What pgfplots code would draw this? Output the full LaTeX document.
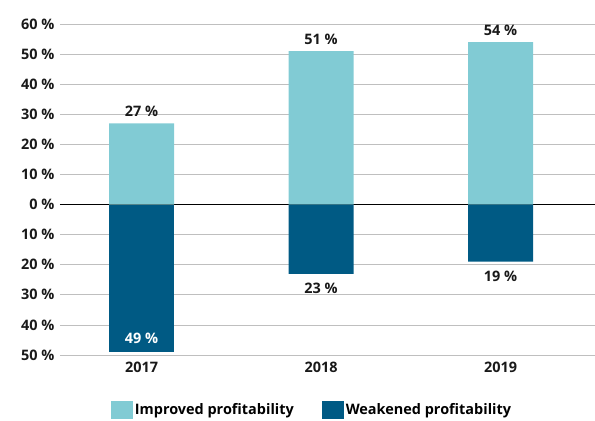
\documentclass[border=0pt]{standalone}
\usepackage{pgfplots}
\pgfplotsset{compat=1.18}
\usepackage{pgfplotstable}
\usepackage{fontspec}
\setmainfont{Open Sans}
\definecolor{lightc}{HTML}{81CBD4}
\definecolor{darkc}{HTML}{005A84}
\pgfplotstableread{
x y
0 27
1 51
2 54
}\improved
\pgfplotstableread{
x y
1 -23
2 -19
}\weakB
\pgfplotstableread{
x y
0 -49
}\weakA
\begin{document}
\begin{tikzpicture}
\path[use as bounding box] (-60bp,-66bp) rectangle (535bp,355bp);
\begin{axis}[
  at={(0,0)}, anchor=south west,
  scale only axis, width=535bp, height=331bp,
  xmin=-0.454, xmax=2.526, ymin=-50, ymax=60,
  xtick={0,1,2}, xticklabels={2017,2018,2019},
  ytick={-50,-40,-30,-20,-10,0,10,20,30,40,50,60},
  yticklabels={50 \%,40 \%,30 \%,20 \%,10 \%,0 \%,10 \%,20 \%,30 \%,40 \%,50 \%,60 \%},
  /pgf/number format/assume math mode=true,
  ymajorgrids, grid style={black!25, line width=0.8pt},
  extra y ticks={0}, extra y tick labels={},
  extra y tick style={grid style={black, line width=0.8pt}},
  axis line style={draw=none},
  major tick length=0pt,
  tick label style={font=\bfseries\fontsize{14.5}{17}\selectfont, text=black!90},
  yticklabel style={xshift=-2bp},
  xticklabel style={yshift=-4bp},
  ybar, bar width=0.362,
  nodes near coords={\pgfmathprintnumber{\pgfplotspointmeta}~\%},
  every node near coord/.append style={font=\bfseries\fontsize{14.5}{17}\selectfont, text=black!90},
  legend style={at={(rel axis cs:0.471,-0.165)}, anchor=center, draw=none, fill=none,
    legend columns=2, font=\bfseries\fontsize{14.5}{17}\selectfont,
    /tikz/every even column/.append style={column sep=26bp},
    legend cell align=left},
  legend image code/.code={\fill[#1] (0bp,-9bp) rectangle (22bp,9bp);},
]
\addplot[draw=none, fill=lightc, bar shift=0pt, point meta={abs(\thisrow{y})},
  every node near coord/.append style={anchor=south, yshift=3bp}] table[x=x,y=y] {\improved};
\addlegendentry{Improved profitability}
\addplot[draw=none, fill=darkc, bar shift=0pt, point meta={abs(\thisrow{y})},
  every node near coord/.append style={anchor=north, yshift=-6bp}] table[x=x,y=y] {\weakB};
\addlegendentry{Weakened profitability}
\addplot[draw=none, fill=darkc, bar shift=0pt, forget plot, point meta={abs(\thisrow{y})},
  every node near coord/.append style={anchor=south, yshift=5bp, text=white}] table[x=x,y=y] {\weakA};
\end{axis}
\end{tikzpicture}
\end{document}
